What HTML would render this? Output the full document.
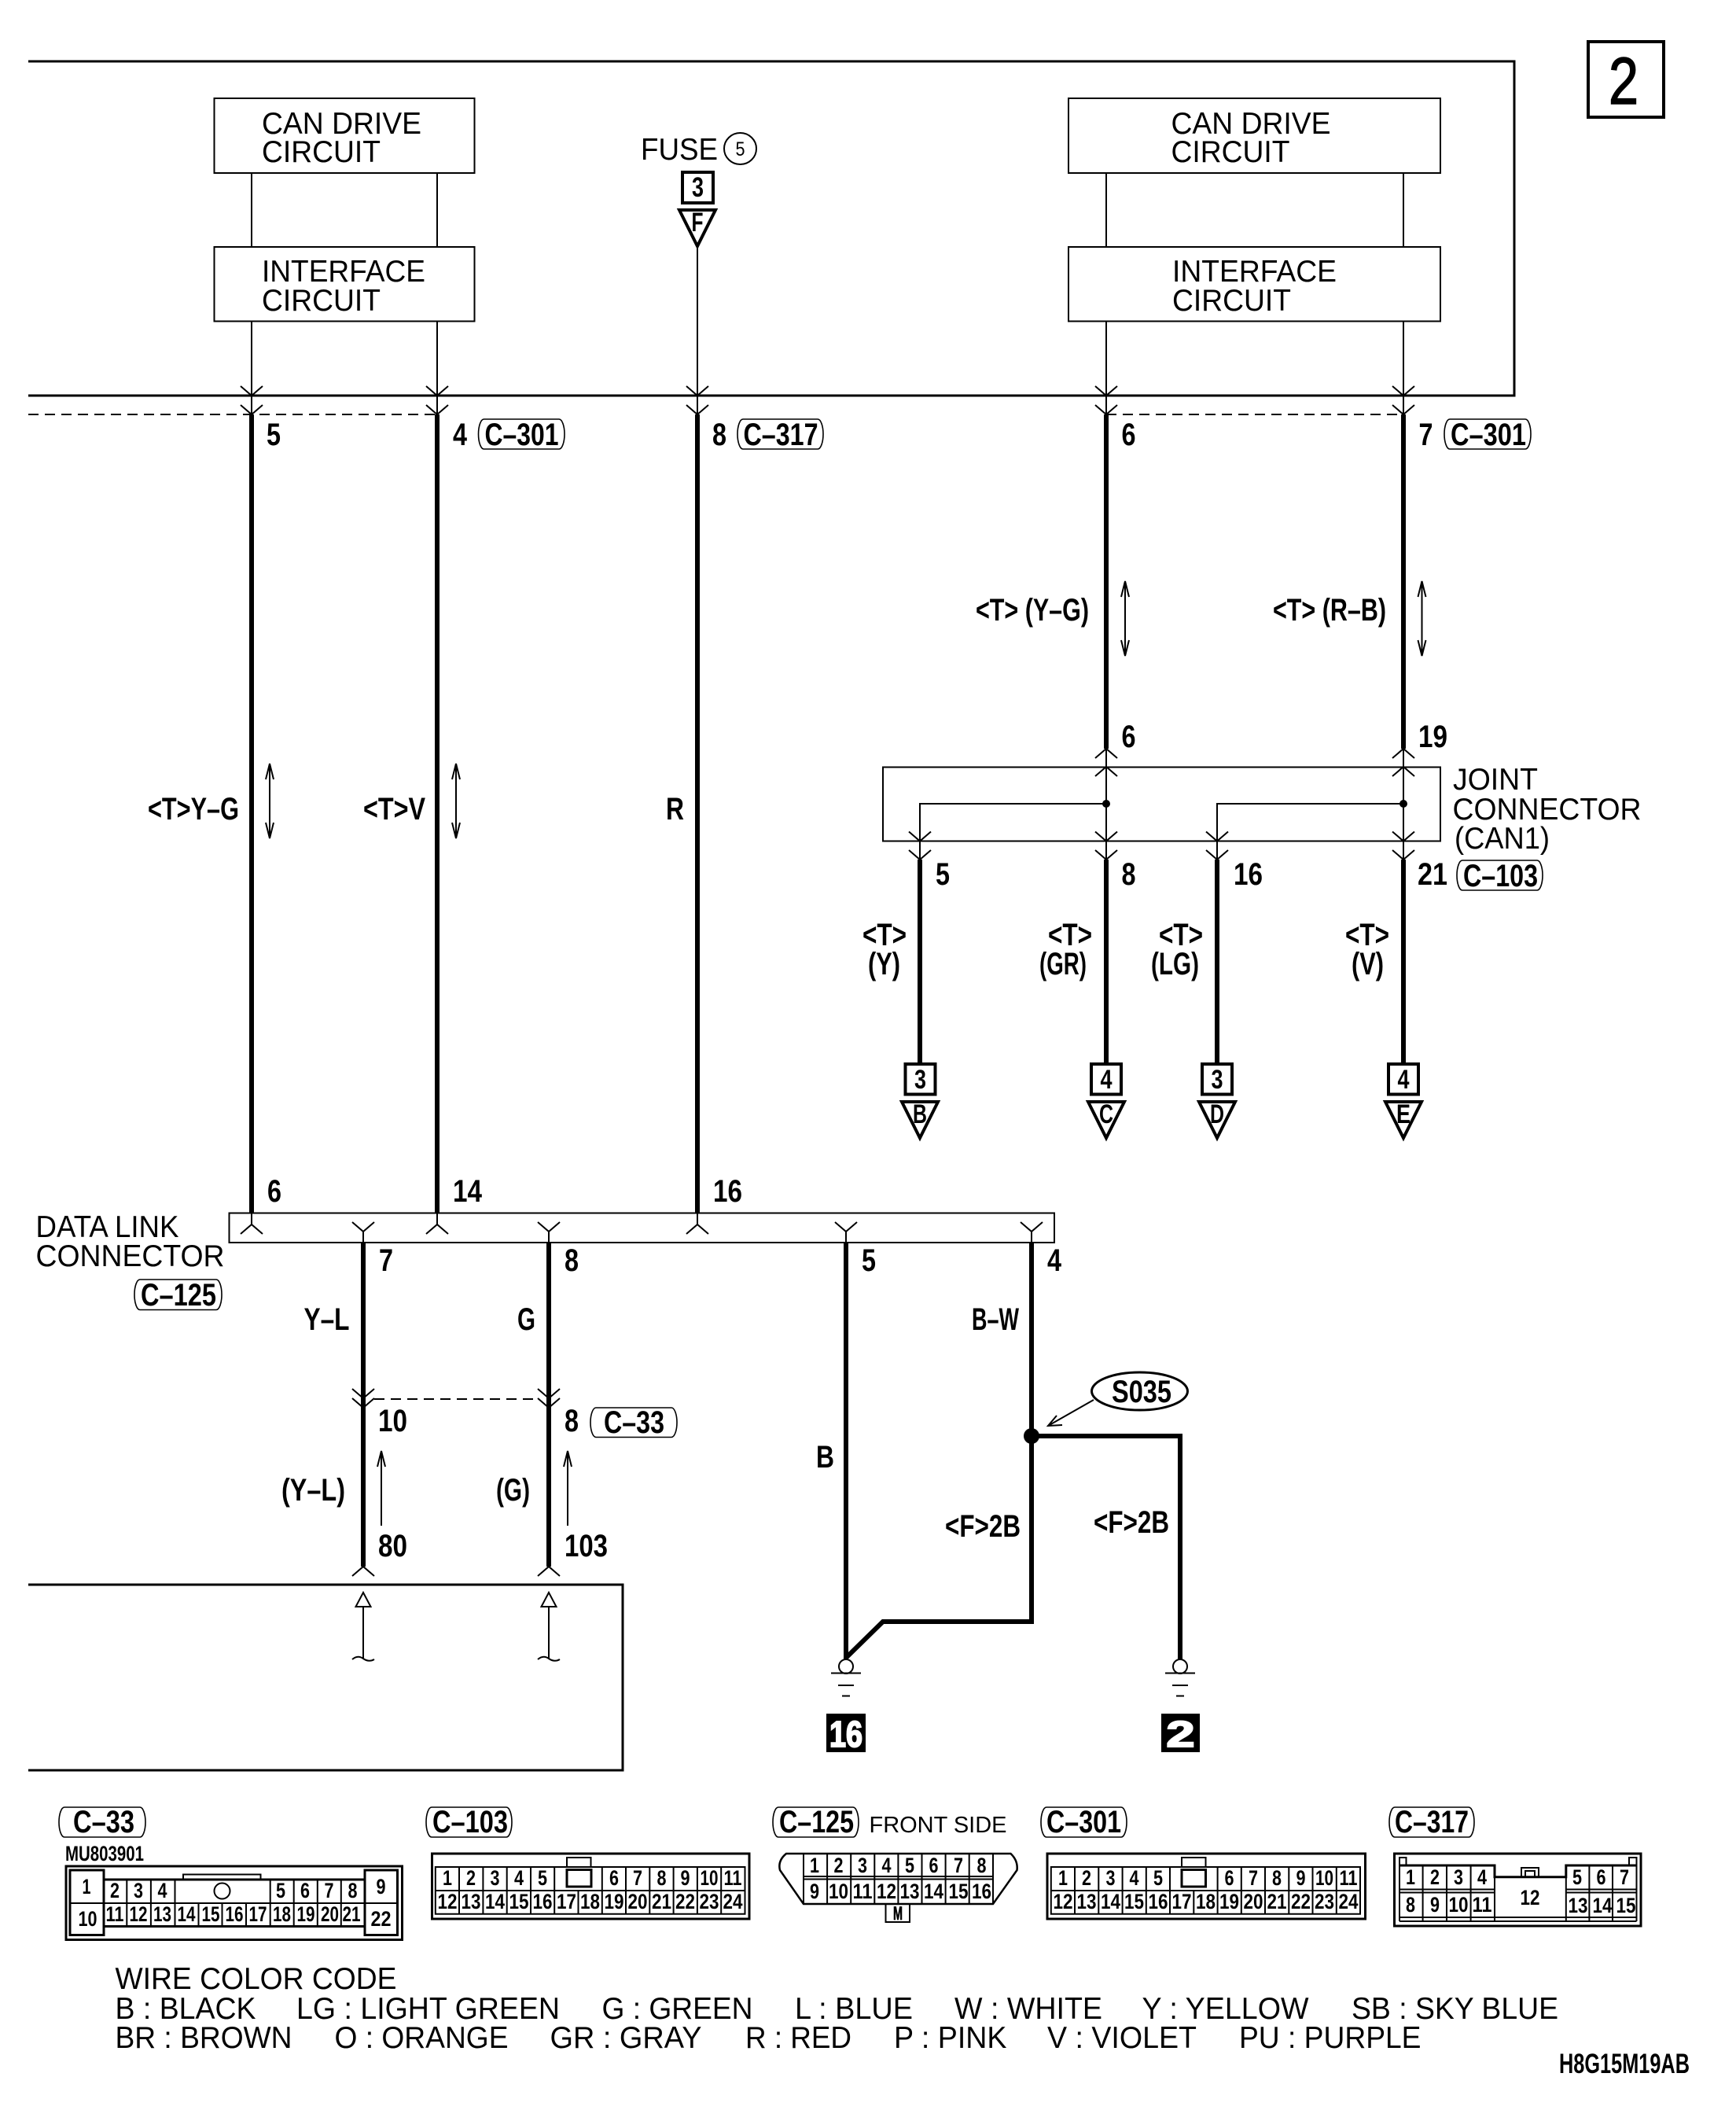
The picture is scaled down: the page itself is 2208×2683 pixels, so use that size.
<!DOCTYPE html>
<html><head><meta charset="utf-8"><title>Wiring diagram</title>
<style>
html,body{margin:0;padding:0;background:#fff}
svg{display:block}
text{font-family:"Liberation Sans",sans-serif;fill:#000}
.r{font-size:39px}
.b{font-size:40px;font-weight:bold}
.m{font-size:40px;font-weight:bold}
.p{font-size:27px;font-weight:bold;text-anchor:middle}
.t{fill:none;stroke:#000;stroke-width:2}
.f{fill:none;stroke:#000;stroke-width:3}
.k{fill:none;stroke:#000;stroke-width:4}
.h{fill:none;stroke:#000;stroke-width:6}
.l{fill:none;stroke:#000;stroke-width:1.6}
</style></head><body>
<svg xmlns="http://www.w3.org/2000/svg" width="2208" height="2683" viewBox="0 0 2208 2683">
<defs>
<path id="dn" class="t" d="M-14,-12L0,0L14,-12"/>
<path id="up" class="t" d="M-14,12L0,0L14,12"/>
<path id="dbl" class="t" d="M0,0V95M-5,20L0,0L5,20M-5,75L0,95L5,75"/>
<path id="uar" class="t" d="M0,0V95M-5,20L0,0L5,20"/>
</defs>
<rect width="2208" height="2683" fill="#fff"/>

<!-- top frame -->
<path class="f" d="M36,78H1926V503H36"/>
<rect class="k" x="2020" y="53" width="96" height="96"/>
<text x="2046" y="132" font-size="84" textLength="38" lengthAdjust="spacingAndGlyphs" style="stroke:#000;stroke-width:1.5">2</text>

<rect class="t" x="272.500" y="125" width="331" height="95"/>
<rect class="t" x="272.500" y="314" width="331" height="94.500"/>
<rect class="t" x="1359" y="125" width="473" height="95"/>
<rect class="t" x="1359" y="314" width="473" height="94.500"/>
<text class="r" x="333" y="170" textLength="203" lengthAdjust="spacingAndGlyphs">CAN DRIVE</text>
<text class="r" x="333" y="206" textLength="151" lengthAdjust="spacingAndGlyphs">CIRCUIT</text>
<text class="r" x="333" y="358" textLength="208" lengthAdjust="spacingAndGlyphs">INTERFACE</text>
<text class="r" x="333" y="395" textLength="151" lengthAdjust="spacingAndGlyphs">CIRCUIT</text>
<text class="r" x="1489.500" y="170" textLength="203" lengthAdjust="spacingAndGlyphs">CAN DRIVE</text>
<text class="r" x="1489.500" y="206" textLength="151" lengthAdjust="spacingAndGlyphs">CIRCUIT</text>
<text class="r" x="1491" y="358" textLength="209" lengthAdjust="spacingAndGlyphs">INTERFACE</text>
<text class="r" x="1491" y="395" textLength="151" lengthAdjust="spacingAndGlyphs">CIRCUIT</text>

<text class="r" x="815" y="203" textLength="98" lengthAdjust="spacingAndGlyphs">FUSE</text>
<ellipse class="t" cx="941.500" cy="189" rx="20.500" ry="20"/>
<text x="941.500" y="198" font-size="25" text-anchor="middle" textLength="12" lengthAdjust="spacingAndGlyphs">5</text>
<rect class="k" x="868" y="219" width="39" height="39"/>
<text x="887.500" y="250" font-size="35" font-weight="bold" text-anchor="middle" textLength="15" lengthAdjust="spacingAndGlyphs">3</text>
<path class="k" d="M864,267H910L887,313Z"/>
<text x="887" y="294" font-size="34" font-weight="bold" text-anchor="middle" textLength="15" lengthAdjust="spacingAndGlyphs">F</text>

<!-- thin lines top -->
<path class="t" d="M320,220V314M320,408V527M556,220V314M556,408V527M887,315V527M1407,220V314M1407,408V527M1785,220V314M1785,408V527"/>
<use href="#dn" x="320" y="503"/><use href="#dn" x="320" y="527"/>
<use href="#dn" x="556" y="503"/><use href="#dn" x="556" y="527"/>
<use href="#dn" x="887" y="503"/><use href="#dn" x="887" y="527"/>
<use href="#dn" x="1407" y="503"/><use href="#dn" x="1407" y="527"/>
<use href="#dn" x="1785" y="503"/><use href="#dn" x="1785" y="527"/>
<path class="t" stroke-dasharray="13 8" d="M36,527H556M1407,527H1785"/>

<!-- heavy wires -->
<path class="h" d="M320,527V1543M556,527V1543M887,527V1543M1407,527V952M1785,527V952"/>
<text class="b" x="339" y="566" textLength="18" lengthAdjust="spacingAndGlyphs">5</text>
<text class="b" x="576" y="566" textLength="18" lengthAdjust="spacingAndGlyphs">4</text>
<text class="b" x="906" y="566" textLength="18" lengthAdjust="spacingAndGlyphs">8</text>
<text class="b" x="1426.500" y="566" textLength="18" lengthAdjust="spacingAndGlyphs">6</text>
<text class="b" x="1804.500" y="566" textLength="18" lengthAdjust="spacingAndGlyphs">7</text>

<rect class="l" x="608.500" y="533" width="109.500" height="38" rx="7" ry="19"/>
<text class="b" x="616.500" y="566" textLength="94" lengthAdjust="spacingAndGlyphs">C–301</text>
<rect class="l" x="938" y="533" width="109" height="38" rx="7" ry="19"/>
<text class="b" x="945.500" y="566" textLength="95" lengthAdjust="spacingAndGlyphs">C–317</text>
<rect class="l" x="1837" y="533" width="110" height="38" rx="7" ry="19"/>
<text class="b" x="1845" y="566" textLength="96" lengthAdjust="spacingAndGlyphs">C–301</text>

<!-- left labels -->
<text class="m" x="188" y="1042" textLength="116" lengthAdjust="spacingAndGlyphs">&lt;T&gt;Y–G</text>
<use href="#dbl" x="343" y="971"/>
<text class="m" x="462" y="1042" textLength="79" lengthAdjust="spacingAndGlyphs">&lt;T&gt;V</text>
<use href="#dbl" x="580" y="971"/>
<text class="m" x="847" y="1042" textLength="23" lengthAdjust="spacingAndGlyphs">R</text>

<!-- right labels -->
<text class="m" x="1241" y="789" textLength="144" lengthAdjust="spacingAndGlyphs">&lt;T&gt; (Y–G)</text>
<text class="m" x="1619" y="789" textLength="144" lengthAdjust="spacingAndGlyphs">&lt;T&gt; (R–B)</text>
<use href="#dbl" x="1431" y="739"/>
<use href="#dbl" x="1808.500" y="739"/>

<!-- joint connector -->
<text class="b" x="1426.500" y="950" textLength="18" lengthAdjust="spacingAndGlyphs">6</text>
<text class="b" x="1804" y="950" textLength="37" lengthAdjust="spacingAndGlyphs">19</text>
<rect class="t" x="1123" y="975.500" width="709" height="94"/>
<path class="t" d="M1407,952V1093M1785,952V1093M1407,1022H1170V1093M1785,1022H1548V1093"/>
<circle cx="1407" cy="1022" r="5"/><circle cx="1785" cy="1022" r="5"/>
<use href="#up" x="1407" y="952"/><use href="#up" x="1785" y="952"/>
<use href="#up" x="1407" y="975"/><use href="#up" x="1785" y="975"/>
<use href="#dn" x="1170" y="1069.500"/><use href="#dn" x="1407" y="1069.500"/><use href="#dn" x="1548" y="1069.500"/><use href="#dn" x="1785" y="1069.500"/>
<use href="#dn" x="1170" y="1093"/><use href="#dn" x="1407" y="1093"/><use href="#dn" x="1548" y="1093"/><use href="#dn" x="1785" y="1093"/>
<text class="r" x="1848" y="1004" textLength="108" lengthAdjust="spacingAndGlyphs">JOINT</text>
<text class="r" x="1847.500" y="1042" textLength="240" lengthAdjust="spacingAndGlyphs">CONNECTOR</text>
<text class="r" x="1850" y="1079" textLength="121" lengthAdjust="spacingAndGlyphs">(CAN1)</text>
<text class="b" x="1190" y="1125" textLength="18" lengthAdjust="spacingAndGlyphs">5</text>
<text class="b" x="1426.500" y="1125" textLength="18" lengthAdjust="spacingAndGlyphs">8</text>
<text class="b" x="1569" y="1125" textLength="37" lengthAdjust="spacingAndGlyphs">16</text>
<text class="b" x="1803" y="1125" textLength="38" lengthAdjust="spacingAndGlyphs">21</text>
<rect class="l" x="1853" y="1094" width="109" height="38" rx="7" ry="19"/>
<text class="b" x="1861" y="1127" textLength="95" lengthAdjust="spacingAndGlyphs">C–103</text>
<path class="h" d="M1170,1093V1353M1407,1093V1353M1548,1093V1353M1785,1093V1353"/>
<text class="m" x="1097" y="1202" textLength="56" lengthAdjust="spacingAndGlyphs">&lt;T&gt;</text>
<text class="m" x="1104" y="1239" textLength="41" lengthAdjust="spacingAndGlyphs">(Y)</text>
<text class="m" x="1333" y="1202" textLength="56" lengthAdjust="spacingAndGlyphs">&lt;T&gt;</text>
<text class="m" x="1322" y="1239" textLength="60" lengthAdjust="spacingAndGlyphs">(GR)</text>
<text class="m" x="1474" y="1202" textLength="56" lengthAdjust="spacingAndGlyphs">&lt;T&gt;</text>
<text class="m" x="1464" y="1239" textLength="61" lengthAdjust="spacingAndGlyphs">(LG)</text>
<text class="m" x="1711" y="1202" textLength="56" lengthAdjust="spacingAndGlyphs">&lt;T&gt;</text>
<text class="m" x="1719" y="1239" textLength="41" lengthAdjust="spacingAndGlyphs">(V)</text>
<rect class="k" x="1151.500" y="1353" width="38" height="38.500"/>
<rect class="k" x="1388" y="1353" width="38" height="38.500"/>
<rect class="k" x="1529" y="1353" width="38" height="38.500"/>
<rect class="k" x="1766" y="1353" width="38" height="38.500"/>
<text x="1170.500" y="1384" font-size="34" font-weight="bold" text-anchor="middle" textLength="15" lengthAdjust="spacingAndGlyphs">3</text>
<text x="1407" y="1384" font-size="34" font-weight="bold" text-anchor="middle" textLength="15" lengthAdjust="spacingAndGlyphs">4</text>
<text x="1548" y="1384" font-size="34" font-weight="bold" text-anchor="middle" textLength="15" lengthAdjust="spacingAndGlyphs">3</text>
<text x="1785" y="1384" font-size="34" font-weight="bold" text-anchor="middle" textLength="15" lengthAdjust="spacingAndGlyphs">4</text>
<path class="k" d="M1147,1401H1193L1170,1447Z"/>
<path class="k" d="M1384,1401H1430L1407,1447Z"/>
<path class="k" d="M1525,1401H1571L1548,1447Z"/>
<path class="k" d="M1762,1401H1808L1785,1447Z"/>
<text x="1170" y="1428" font-size="34" font-weight="bold" text-anchor="middle" textLength="18" lengthAdjust="spacingAndGlyphs">B</text>
<text x="1407" y="1428" font-size="34" font-weight="bold" text-anchor="middle" textLength="18" lengthAdjust="spacingAndGlyphs">C</text>
<text x="1548" y="1428" font-size="34" font-weight="bold" text-anchor="middle" textLength="18" lengthAdjust="spacingAndGlyphs">D</text>
<text x="1785" y="1428" font-size="34" font-weight="bold" text-anchor="middle" textLength="18" lengthAdjust="spacingAndGlyphs">E</text>

<!-- data link connector -->
<rect class="t" x="291.500" y="1542.500" width="1049.500" height="37.500"/>
<text class="b" x="340" y="1528" textLength="18" lengthAdjust="spacingAndGlyphs">6</text>
<text class="b" x="576" y="1528" textLength="37" lengthAdjust="spacingAndGlyphs">14</text>
<text class="b" x="907" y="1528" textLength="37" lengthAdjust="spacingAndGlyphs">16</text>
<path class="t" d="M320,1543V1557M556,1543V1557M887,1543V1557M462,1566V1580M698,1566V1580M1076,1566V1580M1312,1566V1580"/>
<use href="#up" x="320" y="1557"/><use href="#up" x="556" y="1557"/><use href="#up" x="887" y="1557"/>
<use href="#dn" x="462" y="1566"/><use href="#dn" x="698" y="1566"/><use href="#dn" x="1076" y="1566"/><use href="#dn" x="1312" y="1566"/>
<text class="r" x="45.500" y="1573" textLength="182" lengthAdjust="spacingAndGlyphs">DATA LINK</text>
<text class="r" x="45.500" y="1610" textLength="240" lengthAdjust="spacingAndGlyphs">CONNECTOR</text>
<rect class="l" x="171" y="1627" width="111" height="38.500" rx="7" ry="19"/>
<text class="b" x="179" y="1660" textLength="96" lengthAdjust="spacingAndGlyphs">C–125</text>
<text class="b" x="482" y="1616" textLength="18" lengthAdjust="spacingAndGlyphs">7</text>
<text class="b" x="718" y="1616" textLength="18" lengthAdjust="spacingAndGlyphs">8</text>
<text class="b" x="1096" y="1616" textLength="18" lengthAdjust="spacingAndGlyphs">5</text>
<text class="b" x="1332" y="1616" textLength="18" lengthAdjust="spacingAndGlyphs">4</text>
<text class="m" x="386.500" y="1691" textLength="58" lengthAdjust="spacingAndGlyphs">Y–L</text>
<text class="m" x="658" y="1691" textLength="23" lengthAdjust="spacingAndGlyphs">G</text>
<text class="m" x="1236" y="1691" textLength="60" lengthAdjust="spacingAndGlyphs">B–W</text>

<path class="h" d="M462,1580V1992M698,1580V1992"/>
<use href="#dn" x="462" y="1778"/><use href="#dn" x="462" y="1790"/>
<use href="#dn" x="698" y="1778"/><use href="#dn" x="698" y="1790"/>
<path class="t" stroke-dasharray="13 8" d="M476,1779H683"/>
<text class="b" x="481" y="1820" textLength="37" lengthAdjust="spacingAndGlyphs">10</text>
<text class="b" x="718" y="1820" textLength="18" lengthAdjust="spacingAndGlyphs">8</text>
<rect class="l" x="751" y="1790" width="110" height="37.500" rx="7" ry="18.700"/>
<text class="b" x="768" y="1822" textLength="77" lengthAdjust="spacingAndGlyphs">C–33</text>
<use href="#uar" x="485" y="1845"/><use href="#uar" x="722" y="1845"/>
<text class="m" x="358" y="1908" textLength="81" lengthAdjust="spacingAndGlyphs">(Y–L)</text>
<text class="m" x="631" y="1908" textLength="43" lengthAdjust="spacingAndGlyphs">(G)</text>
<text class="b" x="481" y="1979" textLength="37" lengthAdjust="spacingAndGlyphs">80</text>
<text class="b" x="718" y="1979" textLength="55" lengthAdjust="spacingAndGlyphs">103</text>
<use href="#up" x="462" y="1992"/><use href="#up" x="698" y="1992"/>

<path class="f" d="M36,2015H792V2251H36"/>
<path class="t" d="M462,2025L452.500,2043H471.500ZM462,2043V2109M448,2110Q455,2104 462,2109T476,2110"/>
<path class="t" d="M698,2025L688.500,2043H707.500ZM698,2043V2109M684,2110Q691,2104 698,2109T712,2110"/>

<!-- grounds -->
<path class="h" d="M1076,1580V2110M1312,1580V2062H1123L1076,2108M1312,1826H1501V2110"/>
<circle cx="1312" cy="1826" r="10"/>
<text class="m" x="1038" y="1866" textLength="23" lengthAdjust="spacingAndGlyphs">B</text>
<text class="m" x="1202" y="1954" textLength="96" lengthAdjust="spacingAndGlyphs">&lt;F&gt;2B</text>
<text class="m" x="1391" y="1949" textLength="96" lengthAdjust="spacingAndGlyphs">&lt;F&gt;2B</text>
<ellipse class="f" cx="1449.500" cy="1769" rx="61" ry="24"/>
<text class="b" x="1414" y="1783" textLength="76" lengthAdjust="spacingAndGlyphs">S035</text>
<path class="t" d="M1391,1780L1333,1813M1351,1812L1333,1813L1344,1800"/>
<circle class="t" cx="1076" cy="2119" r="9" style="fill:#fff"/>
<circle class="t" cx="1501" cy="2119" r="9" style="fill:#fff"/>
<path class="t" d="M1057,2127.500H1095M1066,2143H1086M1071,2156.500H1081M1482,2127.500H1520M1491,2143H1511M1496,2156.500H1506"/>
<rect x="1051" y="2179" width="50" height="49"/>
<rect x="1477" y="2179" width="49" height="49"/>
<text x="1076" y="2221" font-size="46" font-weight="bold" text-anchor="middle" textLength="42" lengthAdjust="spacingAndGlyphs" style="fill:#fff;stroke:#fff;stroke-width:2">16</text>
<text x="1501.500" y="2221" font-size="46" font-weight="bold" text-anchor="middle" textLength="36" lengthAdjust="spacingAndGlyphs" style="fill:#fff;stroke:#fff;stroke-width:2">2</text>

<!-- connector labels -->
<rect class="l" x="75" y="2298" width="110" height="38" rx="7" ry="19"/>
<text class="b" x="93" y="2330" textLength="78" lengthAdjust="spacingAndGlyphs">C–33</text>
<rect class="l" x="542" y="2298" width="109" height="38" rx="7" ry="19"/>
<text class="b" x="550" y="2330" textLength="96" lengthAdjust="spacingAndGlyphs">C–103</text>
<rect class="l" x="983" y="2298" width="109" height="38" rx="7" ry="19"/>
<text class="b" x="991" y="2330" textLength="95" lengthAdjust="spacingAndGlyphs">C–125</text>
<text x="1105.500" y="2330" font-size="29" textLength="175" lengthAdjust="spacingAndGlyphs">FRONT SIDE</text>
<rect class="l" x="1324" y="2298" width="109" height="38" rx="7" ry="19"/>
<text class="b" x="1331" y="2330" textLength="95" lengthAdjust="spacingAndGlyphs">C–301</text>
<rect class="l" x="1767" y="2298" width="108" height="38" rx="7" ry="19"/>
<text class="b" x="1774" y="2330" textLength="94" lengthAdjust="spacingAndGlyphs">C–317</text>
<text x="83" y="2366" font-size="27" font-weight="bold" textLength="100" lengthAdjust="spacingAndGlyphs">MU803901</text>

<!-- C-33 -->
<rect class="f" x="84" y="2373" width="427.500" height="93.500"/>
<path class="f" d="M132,2390H464M132,2449.500H464"/>
<path class="t" d="M233,2390V2383.500H331.500V2390"/>
<rect class="f" x="89" y="2378" width="43" height="82.500"/>
<rect class="f" x="464" y="2378" width="41.500" height="82.500"/>
<path class="t" d="M89,2420H505.500M161.300,2390V2449.500M191.900,2390V2449.500M222.500,2390V2449.500M252.500,2420V2449.500M282.500,2420V2449.500M313,2420V2449.500M343.700,2390V2449.500M373.700,2390V2449.500M403.800,2390V2449.500M433.800,2390V2449.500"/>
<circle class="t" cx="282.500" cy="2404.500" r="10"/>
<text class="p" x="110" y="2408" textLength="11" lengthAdjust="spacingAndGlyphs">1</text>
<text class="p" x="484.500" y="2408" textLength="12" lengthAdjust="spacingAndGlyphs">9</text>
<text class="p" x="111.500" y="2449" textLength="24" lengthAdjust="spacingAndGlyphs">10</text>
<text class="p" x="484.500" y="2449" textLength="26" lengthAdjust="spacingAndGlyphs">22</text>
<g>
<text class="p" x="146" y="2413" textLength="12" lengthAdjust="spacingAndGlyphs">2</text><text class="p" x="176" y="2413" textLength="12" lengthAdjust="spacingAndGlyphs">3</text><text class="p" x="206.500" y="2413" textLength="12" lengthAdjust="spacingAndGlyphs">4</text>
<text class="p" x="357" y="2413" textLength="12" lengthAdjust="spacingAndGlyphs">5</text><text class="p" x="388" y="2413" textLength="12" lengthAdjust="spacingAndGlyphs">6</text><text class="p" x="418.500" y="2413" textLength="12" lengthAdjust="spacingAndGlyphs">7</text><text class="p" x="448.500" y="2413" textLength="12" lengthAdjust="spacingAndGlyphs">8</text>
<text class="p" x="146" y="2443" textLength="23" lengthAdjust="spacingAndGlyphs">11</text><text class="p" x="176" y="2443" textLength="23" lengthAdjust="spacingAndGlyphs">12</text><text class="p" x="206.500" y="2443" textLength="23" lengthAdjust="spacingAndGlyphs">13</text><text class="p" x="237" y="2443" textLength="23" lengthAdjust="spacingAndGlyphs">14</text><text class="p" x="268" y="2443" textLength="23" lengthAdjust="spacingAndGlyphs">15</text><text class="p" x="298" y="2443" textLength="23" lengthAdjust="spacingAndGlyphs">16</text><text class="p" x="328" y="2443" textLength="23" lengthAdjust="spacingAndGlyphs">17</text><text class="p" x="358.500" y="2443" textLength="23" lengthAdjust="spacingAndGlyphs">18</text><text class="p" x="389" y="2443" textLength="23" lengthAdjust="spacingAndGlyphs">19</text><text class="p" x="419.500" y="2443" textLength="23" lengthAdjust="spacingAndGlyphs">20</text><text class="p" x="447" y="2443" textLength="23" lengthAdjust="spacingAndGlyphs">21</text>
</g>

<!-- C-103 -->
<rect class="f" x="549.500" y="2357" width="403.500" height="83"/>
<rect class="t" x="721" y="2362" width="30.500" height="12"/>
<rect class="f" x="721" y="2377.500" width="31" height="21.500"/>
<path class="t" d="M553.800,2374H947.500V2433.800H553.800ZM553.800,2404H947.500M584,2374V2433.800M614.400,2374V2433.800M644.700,2374V2433.800M675,2374V2433.800M705.200,2374V2433.800M735.500,2404V2433.800M765.800,2374V2433.800M796,2374V2433.800M826.300,2374V2433.800M856.600,2374V2433.800M886.900,2374V2433.800M917.200,2374V2433.800"/>
<g>
<text class="p" x="569" y="2397" textLength="12" lengthAdjust="spacingAndGlyphs">1</text><text class="p" x="599" y="2397" textLength="12" lengthAdjust="spacingAndGlyphs">2</text><text class="p" x="629.500" y="2397" textLength="12" lengthAdjust="spacingAndGlyphs">3</text><text class="p" x="660" y="2397" textLength="12" lengthAdjust="spacingAndGlyphs">4</text><text class="p" x="690" y="2397" textLength="12" lengthAdjust="spacingAndGlyphs">5</text><text class="p" x="781" y="2397" textLength="12" lengthAdjust="spacingAndGlyphs">6</text><text class="p" x="811" y="2397" textLength="12" lengthAdjust="spacingAndGlyphs">7</text><text class="p" x="841.500" y="2397" textLength="12" lengthAdjust="spacingAndGlyphs">8</text><text class="p" x="871.500" y="2397" textLength="12" lengthAdjust="spacingAndGlyphs">9</text><text class="p" x="902" y="2397" textLength="23" lengthAdjust="spacingAndGlyphs">10</text><text class="p" x="932" y="2397" textLength="23" lengthAdjust="spacingAndGlyphs">11</text>
<text class="p" x="569" y="2427" textLength="25" lengthAdjust="spacingAndGlyphs">12</text><text class="p" x="599" y="2427" textLength="25" lengthAdjust="spacingAndGlyphs">13</text><text class="p" x="629.500" y="2427" textLength="25" lengthAdjust="spacingAndGlyphs">14</text><text class="p" x="660" y="2427" textLength="25" lengthAdjust="spacingAndGlyphs">15</text><text class="p" x="690" y="2427" textLength="25" lengthAdjust="spacingAndGlyphs">16</text><text class="p" x="720.500" y="2427" textLength="25" lengthAdjust="spacingAndGlyphs">17</text><text class="p" x="750.500" y="2427" textLength="25" lengthAdjust="spacingAndGlyphs">18</text><text class="p" x="781" y="2427" textLength="25" lengthAdjust="spacingAndGlyphs">19</text><text class="p" x="811" y="2427" textLength="25" lengthAdjust="spacingAndGlyphs">20</text><text class="p" x="841.500" y="2427" textLength="25" lengthAdjust="spacingAndGlyphs">21</text><text class="p" x="871.500" y="2427" textLength="25" lengthAdjust="spacingAndGlyphs">22</text><text class="p" x="902" y="2427" textLength="25" lengthAdjust="spacingAndGlyphs">23</text><text class="p" x="932" y="2427" textLength="25" lengthAdjust="spacingAndGlyphs">24</text>
</g>

<!-- C-125 -->
<path class="f" d="M1000,2357H1285.500Q1295,2366 1293.500,2378L1263,2421H1022L992,2378Q989,2366 1000,2357Z" style="stroke-width:2.500"/>
<rect class="t" x="1126.500" y="2421" width="30.500" height="23"/>
<path class="t" d="M1022,2357V2421M1052.100,2357V2421M1082.200,2357V2421M1112.300,2357V2421M1142.400,2357V2421M1172.500,2357V2421M1202.600,2357V2421M1232.700,2357V2421M1263,2357V2421M1022,2386H1263M1022,2389.500H1263"/>
<g>
<text class="p" x="1036" y="2381" textLength="12" lengthAdjust="spacingAndGlyphs">1</text><text class="p" x="1066.500" y="2381" textLength="12" lengthAdjust="spacingAndGlyphs">2</text><text class="p" x="1097" y="2381" textLength="12" lengthAdjust="spacingAndGlyphs">3</text><text class="p" x="1127.500" y="2381" textLength="12" lengthAdjust="spacingAndGlyphs">4</text><text class="p" x="1157" y="2381" textLength="12" lengthAdjust="spacingAndGlyphs">5</text><text class="p" x="1187.500" y="2381" textLength="12" lengthAdjust="spacingAndGlyphs">6</text><text class="p" x="1219" y="2381" textLength="12" lengthAdjust="spacingAndGlyphs">7</text><text class="p" x="1248.500" y="2381" textLength="12" lengthAdjust="spacingAndGlyphs">8</text>
<text class="p" x="1036" y="2414" textLength="12" lengthAdjust="spacingAndGlyphs">9</text><text class="p" x="1066.500" y="2414" textLength="25" lengthAdjust="spacingAndGlyphs">10</text><text class="p" x="1097" y="2414" textLength="25" lengthAdjust="spacingAndGlyphs">11</text><text class="p" x="1127.500" y="2414" textLength="25" lengthAdjust="spacingAndGlyphs">12</text><text class="p" x="1157" y="2414" textLength="25" lengthAdjust="spacingAndGlyphs">13</text><text class="p" x="1187.500" y="2414" textLength="25" lengthAdjust="spacingAndGlyphs">14</text><text class="p" x="1219" y="2414" textLength="25" lengthAdjust="spacingAndGlyphs">15</text><text class="p" x="1248.500" y="2414" textLength="25" lengthAdjust="spacingAndGlyphs">16</text>
<text x="1142" y="2441" font-size="24" font-weight="bold" text-anchor="middle" textLength="12" lengthAdjust="spacingAndGlyphs" style="stroke:#000;stroke-width:.8">M</text>
</g>

<!-- C-301 -->
<rect class="f" x="1332" y="2357" width="404.500" height="83"/>
<rect class="t" x="1503" y="2362" width="30.500" height="12"/>
<rect class="f" x="1503" y="2377.500" width="30.500" height="21.500"/>
<path class="t" d="M1336.800,2374H1730V2433.800H1336.800ZM1336.800,2404H1730M1367,2374V2433.800M1397.300,2374V2433.800M1427.600,2374V2433.800M1457.800,2374V2433.800M1488,2374V2433.800M1518.300,2404V2433.800M1548.600,2374V2433.800M1578.800,2374V2433.800M1609,2374V2433.800M1639.300,2374V2433.800M1669.500,2374V2433.800M1699.800,2374V2433.800"/>
<g>
<text class="p" x="1352" y="2397" textLength="12" lengthAdjust="spacingAndGlyphs">1</text><text class="p" x="1382" y="2397" textLength="12" lengthAdjust="spacingAndGlyphs">2</text><text class="p" x="1412.500" y="2397" textLength="12" lengthAdjust="spacingAndGlyphs">3</text><text class="p" x="1442.500" y="2397" textLength="12" lengthAdjust="spacingAndGlyphs">4</text><text class="p" x="1473" y="2397" textLength="12" lengthAdjust="spacingAndGlyphs">5</text><text class="p" x="1563.500" y="2397" textLength="12" lengthAdjust="spacingAndGlyphs">6</text><text class="p" x="1594" y="2397" textLength="12" lengthAdjust="spacingAndGlyphs">7</text><text class="p" x="1624" y="2397" textLength="12" lengthAdjust="spacingAndGlyphs">8</text><text class="p" x="1654.500" y="2397" textLength="12" lengthAdjust="spacingAndGlyphs">9</text><text class="p" x="1684.500" y="2397" textLength="23" lengthAdjust="spacingAndGlyphs">10</text><text class="p" x="1715" y="2397" textLength="23" lengthAdjust="spacingAndGlyphs">11</text>
<text class="p" x="1352" y="2427" textLength="25" lengthAdjust="spacingAndGlyphs">12</text><text class="p" x="1382" y="2427" textLength="25" lengthAdjust="spacingAndGlyphs">13</text><text class="p" x="1412.500" y="2427" textLength="25" lengthAdjust="spacingAndGlyphs">14</text><text class="p" x="1442.500" y="2427" textLength="25" lengthAdjust="spacingAndGlyphs">15</text><text class="p" x="1473" y="2427" textLength="25" lengthAdjust="spacingAndGlyphs">16</text><text class="p" x="1503" y="2427" textLength="25" lengthAdjust="spacingAndGlyphs">17</text><text class="p" x="1533.500" y="2427" textLength="25" lengthAdjust="spacingAndGlyphs">18</text><text class="p" x="1563.500" y="2427" textLength="25" lengthAdjust="spacingAndGlyphs">19</text><text class="p" x="1594" y="2427" textLength="25" lengthAdjust="spacingAndGlyphs">20</text><text class="p" x="1624" y="2427" textLength="25" lengthAdjust="spacingAndGlyphs">21</text><text class="p" x="1654.500" y="2427" textLength="25" lengthAdjust="spacingAndGlyphs">22</text><text class="p" x="1684.500" y="2427" textLength="25" lengthAdjust="spacingAndGlyphs">23</text><text class="p" x="1715" y="2427" textLength="25" lengthAdjust="spacingAndGlyphs">24</text>
</g>

<!-- C-317 -->
<rect class="f" x="1773.500" y="2357" width="313.500" height="92"/>
<path class="t" d="M1780,2372V2362H1788.500V2372M2072,2372V2362H2081.500V2372"/>
<path class="f" d="M1780,2372H1901V2386.800H1991.800V2372H2081.500"/>
<path class="t" d="M1780,2372V2443M1809.600,2372V2443M1840,2372V2443M1870.600,2372V2443M1901,2372V2443M1991.800,2372V2443M2021.400,2372V2443M2051,2372V2443M2081.500,2372V2443M1780,2438H2081.500M1780,2443H2081.500"/>
<path class="f" d="M1780,2402.500H1901M1780,2406.500H1901M1991.800,2402.500H2081.500M1991.800,2406.500H2081.500" style="stroke-width:2"/>
<path class="t" d="M1935,2386.500V2375H1957V2386.500M1940,2386.500V2379H1952V2386.500"/>
<g>
<text class="p" x="1794" y="2396" textLength="12" lengthAdjust="spacingAndGlyphs">1</text><text class="p" x="1825" y="2396" textLength="12" lengthAdjust="spacingAndGlyphs">2</text><text class="p" x="1855" y="2396" textLength="12" lengthAdjust="spacingAndGlyphs">3</text><text class="p" x="1885" y="2396" textLength="12" lengthAdjust="spacingAndGlyphs">4</text><text class="p" x="2006" y="2396" textLength="12" lengthAdjust="spacingAndGlyphs">5</text><text class="p" x="2036.500" y="2396" textLength="12" lengthAdjust="spacingAndGlyphs">6</text><text class="p" x="2066" y="2396" textLength="12" lengthAdjust="spacingAndGlyphs">7</text>
<text class="p" x="1794" y="2431" textLength="12" lengthAdjust="spacingAndGlyphs">8</text><text class="p" x="1825" y="2431" textLength="12" lengthAdjust="spacingAndGlyphs">9</text><text class="p" x="1855" y="2431" textLength="25" lengthAdjust="spacingAndGlyphs">10</text><text class="p" x="1885" y="2431" textLength="25" lengthAdjust="spacingAndGlyphs">11</text>
<text class="p" x="1946" y="2422" textLength="25" lengthAdjust="spacingAndGlyphs">12</text>
<text class="p" x="2007" y="2432" textLength="25" lengthAdjust="spacingAndGlyphs">13</text><text class="p" x="2038" y="2432" textLength="25" lengthAdjust="spacingAndGlyphs">14</text><text class="p" x="2068" y="2432" textLength="25" lengthAdjust="spacingAndGlyphs">15</text>
</g>

<!-- wire color code -->
<text class="r" x="146.500" y="2529" textLength="358" lengthAdjust="spacingAndGlyphs">WIRE COLOR CODE</text>
<text class="r" x="146.500" y="2567" textLength="179" lengthAdjust="spacingAndGlyphs">B : BLACK</text>
<text class="r" x="377" y="2567" textLength="335" lengthAdjust="spacingAndGlyphs">LG : LIGHT GREEN</text>
<text class="r" x="765.500" y="2567" textLength="192" lengthAdjust="spacingAndGlyphs">G : GREEN</text>
<text class="r" x="1011" y="2567" textLength="150" lengthAdjust="spacingAndGlyphs">L : BLUE</text>
<text class="r" x="1214" y="2567" textLength="188" lengthAdjust="spacingAndGlyphs">W : WHITE</text>
<text class="r" x="1452.500" y="2567" textLength="212" lengthAdjust="spacingAndGlyphs">Y : YELLOW</text>
<text class="r" x="1719" y="2567" textLength="263" lengthAdjust="spacingAndGlyphs">SB : SKY BLUE</text>
<text class="r" x="146.500" y="2604" textLength="225" lengthAdjust="spacingAndGlyphs">BR : BROWN</text>
<text class="r" x="425.500" y="2604" textLength="221" lengthAdjust="spacingAndGlyphs">O : ORANGE</text>
<text class="r" x="699.500" y="2604" textLength="193" lengthAdjust="spacingAndGlyphs">GR : GRAY</text>
<text class="r" x="948" y="2604" textLength="135" lengthAdjust="spacingAndGlyphs">R : RED</text>
<text class="r" x="1137" y="2604" textLength="143.500" lengthAdjust="spacingAndGlyphs">P : PINK</text>
<text class="r" x="1332" y="2604" textLength="190" lengthAdjust="spacingAndGlyphs">V : VIOLET</text>
<text class="r" x="1576" y="2604" textLength="231.500" lengthAdjust="spacingAndGlyphs">PU : PURPLE</text>
<text x="1983" y="2636" font-size="35" font-weight="bold" textLength="166" lengthAdjust="spacingAndGlyphs">H8G15M19AB</text>
</svg>
</body></html>
